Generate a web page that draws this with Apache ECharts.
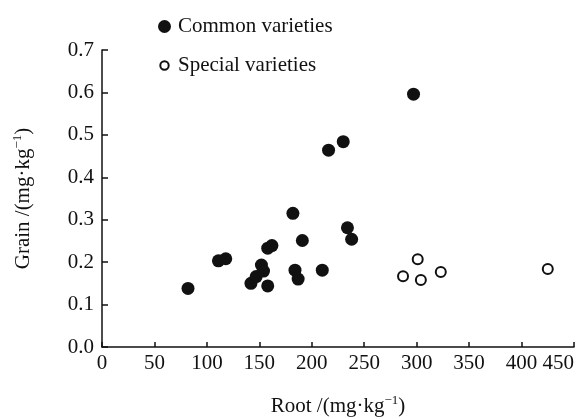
<!DOCTYPE html>
<html>
<head>
<meta charset="utf-8">
<script src="https://cdn.jsdelivr.net/npm/echarts@6/dist/echarts.min.js"></script>
<style>
  html, body { margin: 0; padding: 0; background: #fff; }
  #chart { width: 581px; height: 419px; }
</style>
</head>
<body>
<div id="chart"></div>
<script>
// values
const commonRoot = [82, 111, 118, 142, 147, 152, 154, 158, 158, 162, 182, 184, 187, 191, 210, 234, 238, 216, 230, 297];
const commonGrain = [0.138, 0.203, 0.208, 0.150, 0.166, 0.193, 0.179, 0.144, 0.233, 0.239, 0.315, 0.181, 0.160, 0.251, 0.181, 0.281, 0.254, 0.464, 0.484, 0.596];
const specialRoot = [301, 287, 304, 323, 425];
const specialGrain = [0.207, 0.167, 0.158, 0.177, 0.184];
const xTicks = [0, 50, 100, 150, 200, 250, 300, 350, 400, 450];

const font = 'Liberation Serif';
const ink = '#111';

const pairs = (xs, ys) => xs.map((x, i) => [x, ys[i]]);

// smaller hollow ring for the legend, padded inside a 13x13 box
const ringIcon = 'image://data:image/svg+xml;charset=utf-8,' + encodeURIComponent(
    '<svg xmlns="http://www.w3.org/2000/svg" width="13" height="13" viewBox="0 0 13 13">' +
    '<circle cx="6.5" cy="6.5" r="4.2" fill="#fff" stroke="#111" stroke-width="2"/></svg>'
);

const chart = echarts.init(document.getElementById('chart'));

const option = {
    animation: false,
    backgroundColor: '#fff',
    grid: { left: 102, right: 7, top: 50, bottom: 72, outerBoundsMode: 'none' },
    legend: {
        orient: 'vertical',
        left: 153,
        top: 11,
        itemGap: 18,
        itemWidth: 13,
        itemHeight: 13,
        textStyle: { fontFamily: font, fontSize: 21, color: ink, padding: [0, 0, 0, 2] },
        data: [
            { name: 'Common varieties', icon: 'circle' },
            { name: 'Special varieties', icon: ringIcon }
        ]
    },
    xAxis: {
        type: 'value',
        min: 0,
        max: 450,
        interval: 50,
        name: 'Root /(mg·kg{sup|−1})',
        nameLocation: 'middle',
        nameGap: 47,
        nameTextStyle: {
            fontFamily: font, fontSize: 21, color: ink,
            rich: { sup: { fontFamily: font, fontSize: 13, color: ink, verticalAlign: 'top', padding: [0, 0, 11, 0] } }
        },
        splitLine: { show: false },
        axisLine: { lineStyle: { color: ink, width: 1.5 } },
        axisTick: { inside: true, length: 5, lineStyle: { color: ink, width: 1.5 } },
        axisLabel: {
            fontFamily: font, fontSize: 21, color: ink, margin: 6,
            alignMaxLabel: 'right',
            customValues: xTicks
        }
    },
    yAxis: {
        type: 'value',
        min: 0,
        max: 0.7,
        interval: 0.1,
        name: 'Grain /(mg·kg{sup|−1})',
        nameLocation: 'middle',
        nameGap: 67,
        nameTextStyle: {
            fontFamily: font, fontSize: 21, color: ink,
            rich: { sup: { fontFamily: font, fontSize: 13, color: ink, verticalAlign: 'top', padding: [0, 0, 11, 0] } }
        },
        splitLine: { show: false },
        axisLine: { lineStyle: { color: ink, width: 1.5 } },
        axisTick: { inside: true, length: 6, lineStyle: { color: ink, width: 1.5 } },
        axisLabel: {
            fontFamily: font, fontSize: 21, color: ink, margin: 8,
            formatter: (v) => v.toFixed(1)
        }
    },
    series: [
        {
            name: 'Common varieties',
            type: 'scatter',
            symbol: 'circle',
            symbolSize: 13,
            itemStyle: { color: ink, opacity: 1 },
            data: pairs(commonRoot, commonGrain)
        },
        {
            name: 'Special varieties',
            type: 'scatter',
            symbol: 'circle',
            symbolSize: 10,
            itemStyle: { color: '#fff', borderColor: ink, borderWidth: 2, opacity: 1 },
            data: pairs(specialRoot, specialGrain)
        }
    ]
};

chart.setOption(option);
</script>
</body>
</html>
